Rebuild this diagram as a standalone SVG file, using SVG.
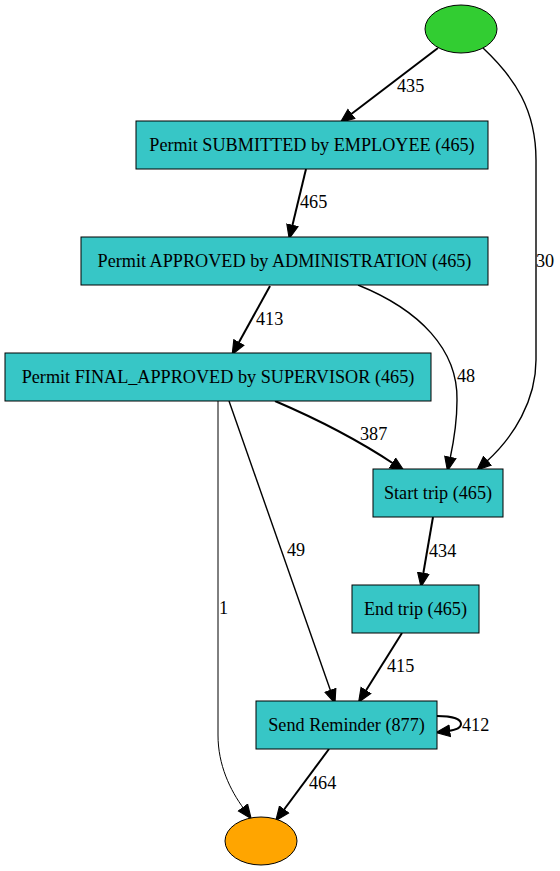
<svg xmlns="http://www.w3.org/2000/svg" width="560" height="871" viewBox="0 0 560 871">
<style>
.box{fill:#37C6C6;stroke:#000;stroke-width:1}
.lbl{font-family:"Liberation Serif","Times New Roman","DejaVu Serif",serif;font-size:18.2px;fill:#000}
.ctr{text-anchor:middle}
.e{fill:none;stroke:#000;stroke-width:2}
.e15{stroke-width:1.4}
.e1{stroke-width:1}
</style>
<defs>
<marker id="ah" markerUnits="userSpaceOnUse" markerWidth="16" markerHeight="14" refX="2" refY="6" orient="auto" viewBox="0 0 14 12">
<path d="M0.5,1 L12.5,6 L0.5,11 z" fill="#000" stroke="#000" stroke-width="1"/>
</marker>
</defs>
<rect width="560" height="871" fill="#fff"/>
<g id="connectors">
<path class="e" d="M438,48 L350,115" marker-end="url(#ah)"/>
<text class="lbl" x="397" y="92">435</text>
<path class="e e15" d="M483,48 C515,78 536,110 536,160 L536,360 C536,400 514,437 486,462" marker-end="url(#ah)"/>
<text class="lbl" x="536" y="267">30</text>
<path class="e" d="M306,169 L292,227" marker-end="url(#ah)"/>
<text class="lbl" x="300" y="208">465</text>
<path class="e" d="M270,286 L238,344" marker-end="url(#ah)"/>
<text class="lbl" x="256" y="325">413</text>
<path class="e e15" d="M358,285 C420,310 458,350 457,400 C457,425 453,445 450,459" marker-end="url(#ah)"/>
<text class="lbl" x="457" y="382">48</text>
<path class="e" d="M275,401 C310,416 355,438 394,464" marker-end="url(#ah)"/>
<text class="lbl" x="360" y="440">387</text>
<path class="e e15" d="M229,401 L331,692" marker-end="url(#ah)"/>
<text class="lbl" x="287" y="556">49</text>
<path class="e e1" d="M218,401 L218,735 C218,765 230,790 244,809" marker-end="url(#ah)"/>
<text class="lbl" x="219" y="614">1</text>
<path class="e" d="M433,517 L423,575" marker-end="url(#ah)"/>
<text class="lbl" x="429" y="557">434</text>
<path class="e" d="M402,633 L365,692" marker-end="url(#ah)"/>
<text class="lbl" x="387" y="672">415</text>
<path class="e" d="M437,716 C452,716 461,719 461,724 C461,728 456,730 448,731" marker-end="url(#ah)"/>
<text class="lbl" x="462" y="731">412</text>
<path class="e" d="M329,749 L283,811" marker-end="url(#ah)"/>
<text class="lbl" x="309" y="789">464</text>
</g>
<g id="start"><ellipse cx="461" cy="29" rx="36" ry="24" fill="#32CD32" stroke="#000"/></g>
<g id="submitted"><rect class="box" x="136" y="121" width="352" height="48"/><text class="lbl ctr" x="312" y="151">Permit SUBMITTED by EMPLOYEE (465)</text></g>
<g id="approved"><rect class="box" x="81" y="237" width="407" height="48"/><text class="lbl ctr" x="284.5" y="267">Permit APPROVED by ADMINISTRATION (465)</text></g>
<g id="final"><rect class="box" x="5" y="353" width="426" height="48"/><text class="lbl ctr" x="218" y="383">Permit FINAL_APPROVED by SUPERVISOR (465)</text></g>
<g id="starttrip"><rect class="box" x="373" y="469" width="130" height="48"/><text class="lbl ctr" x="438" y="499">Start trip (465)</text></g>
<g id="endtrip"><rect class="box" x="352" y="585" width="127" height="48"/><text class="lbl ctr" x="415.5" y="615">End trip (465)</text></g>
<g id="reminder"><rect class="box" x="256" y="701" width="181" height="48"/><text class="lbl ctr" x="346.5" y="731">Send Reminder (877)</text></g>
<g id="end"><ellipse cx="261" cy="841" rx="36" ry="24" fill="#FFA500" stroke="#000"/></g>
</svg>
